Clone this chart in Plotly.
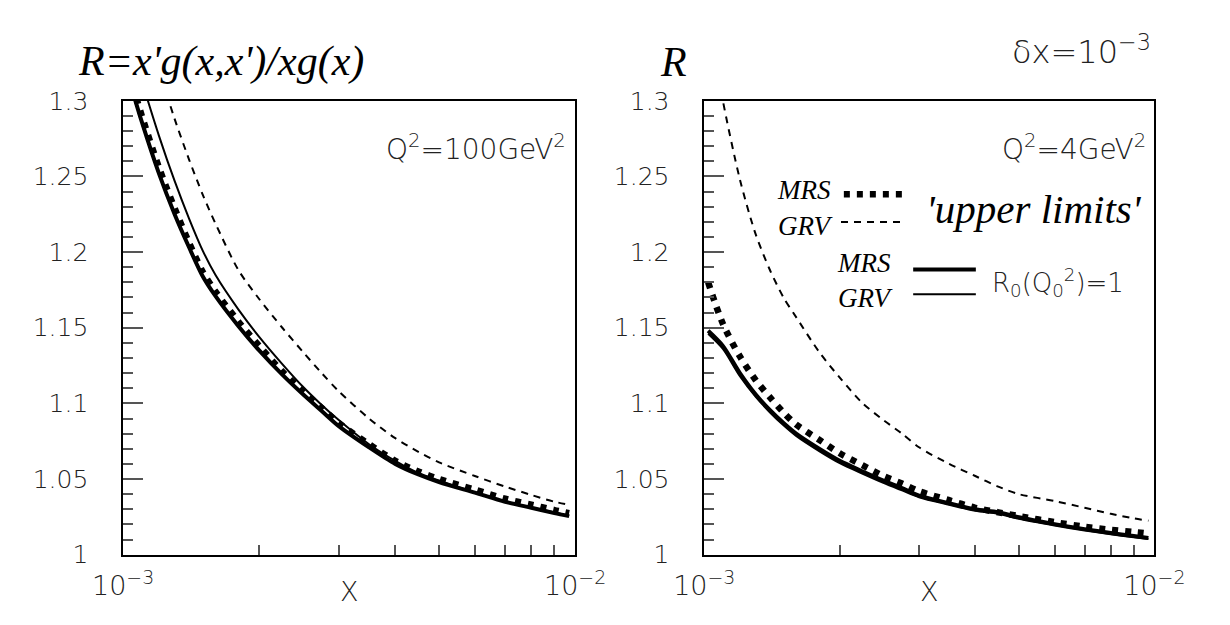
import plotly.graph_objects as go

W, H = 1230, 625

# ---------------- data (x given in units of 1e-3) ----------------
# Left panel: Q^2 = 100 GeV^2
l_mrs_up_x = [1.05, 1.1, 1.2, 1.3, 1.4, 1.5, 1.6, 1.8, 2.0, 2.25, 2.5, 2.75, 3.0, 3.5, 4.0, 4.5, 5.0, 6.0, 7.0, 8.0, 9.0, 9.7]
l_mrs_up_y = [1.310, 1.290, 1.256, 1.229, 1.206, 1.187, 1.174, 1.154, 1.138, 1.121, 1.108, 1.097, 1.087, 1.073, 1.062, 1.055, 1.050, 1.043, 1.037, 1.033, 1.0295, 1.0275]

l_grv_up_x = [1.2, 1.25, 1.3, 1.4, 1.5, 1.6, 1.8, 2.0, 2.25, 2.5, 2.75, 3.0, 3.5, 4.0, 4.5, 5.0, 6.0, 7.0, 8.0, 9.0, 9.7]
l_grv_up_y = [1.321, 1.304, 1.288, 1.261, 1.238, 1.219, 1.188, 1.169, 1.150, 1.134, 1.120, 1.108, 1.090, 1.077, 1.068, 1.061, 1.052, 1.045, 1.0395, 1.035, 1.033]

l_mrs_r0_x = [1.05, 1.1, 1.2, 1.3, 1.4, 1.5, 1.6, 1.8, 2.0, 2.25, 2.5, 2.75, 3.0, 3.5, 4.0, 4.5, 5.0, 6.0, 7.0, 8.0, 9.0, 9.7]
l_mrs_r0_y = [1.306, 1.286, 1.252, 1.225, 1.203, 1.184, 1.171, 1.151, 1.135, 1.119, 1.106, 1.095, 1.085, 1.071, 1.060, 1.053, 1.048, 1.041, 1.035, 1.031, 1.0275, 1.0255]

l_grv_r0_x = [1.1, 1.2, 1.3, 1.4, 1.5, 1.6, 1.8, 2.0, 2.25, 2.5, 2.75, 3.0, 3.5, 4.0, 4.5, 5.0, 6.0, 7.0, 8.0, 9.0, 9.7]
l_grv_r0_y = [1.313, 1.277, 1.247, 1.222, 1.201, 1.185, 1.162, 1.144, 1.126, 1.111, 1.099, 1.089, 1.073, 1.062, 1.054, 1.049, 1.041, 1.035, 1.031, 1.028, 1.0255]

# Right panel: Q^2 = 4 GeV^2
r_mrs_up_x = [1.02, 1.1, 1.2, 1.3, 1.4, 1.5, 1.6, 1.8, 2.0, 2.25, 2.5, 2.75, 3.0, 3.5, 4.0, 4.5, 5.0, 6.0, 7.0, 8.0, 9.0, 9.7]
r_mrs_up_y = [1.180, 1.1526, 1.131, 1.1155, 1.104, 1.094, 1.086, 1.076, 1.067, 1.059, 1.052, 1.047, 1.042, 1.036, 1.031, 1.028, 1.0255, 1.0215, 1.0185, 1.0165, 1.015, 1.014]

r_grv_up_x = [1.08, 1.1, 1.2, 1.3, 1.4, 1.5, 1.6, 1.8, 2.0, 2.25, 2.5, 2.75, 3.0, 3.5, 4.0, 4.5, 5.0, 6.0, 7.0, 8.0, 9.0, 9.7]
r_grv_up_y = [1.315, 1.300, 1.248, 1.212, 1.188, 1.170, 1.157, 1.134, 1.117, 1.100, 1.089, 1.080, 1.071, 1.060, 1.052, 1.045, 1.040, 1.0355, 1.031, 1.027, 1.024, 1.0225]

r_mrs_r0_x = [1.02, 1.1, 1.2, 1.3, 1.4, 1.5, 1.6, 1.8, 2.0, 2.25, 2.5, 2.75, 3.0, 3.5, 4.0, 4.5, 5.0, 6.0, 7.0, 8.0, 9.0, 9.7]
r_mrs_r0_y = [1.148, 1.138, 1.120, 1.106, 1.0955, 1.087, 1.080, 1.070, 1.062, 1.055, 1.049, 1.044, 1.039, 1.034, 1.030, 1.028, 1.0247, 1.0202, 1.0169, 1.0143, 1.0123, 1.011]

r_grv_r0_x = [1.02, 1.1, 1.2, 1.3, 1.4, 1.5, 1.6, 1.8, 2.0, 2.25, 2.5, 2.75, 3.0, 3.5, 4.0, 4.5, 5.0, 6.0, 7.0, 8.0, 9.0, 9.7]
r_grv_r0_y = [1.146, 1.136, 1.118, 1.1045, 1.094, 1.0855, 1.0785, 1.0685, 1.0605, 1.0535, 1.0475, 1.0425, 1.038, 1.033, 1.029, 1.027, 1.0237, 1.0193, 1.016, 1.0135, 1.0115, 1.0103]

x_major_vals = [0.001, 0.01]
x_major_text = ["10<sup>\u22123</sup>", "10<sup>\u22122</sup>"]
x_minor_vals = [0.002, 0.003, 0.004, 0.005, 0.006, 0.007, 0.008, 0.009]
y_tickvals = [1.0, 1.05, 1.1, 1.15, 1.2, 1.25, 1.3]
y_ticktext = ["1", "1.05", "1.1", "1.15", "1.2", "1.25", "1.3"]


def sc(v):
    return [a * 1e-3 for a in v]


SANS = "DejaVu Sans ExtraLight, DejaVu Sans Light, DejaVu Sans"
SERIF = "Liberation Serif, Times New Roman, serif"
TXT = "#222"

DOT = "6px,7px"
DASH = "7px,6px"

fig = go.Figure()


def add(xv, yv, xa, ya, width, dash):
    fig.add_trace(go.Scatter(x=sc(xv), y=yv, xaxis=xa, yaxis=ya, mode="lines",
                             line=dict(color="black", width=width, dash=dash, shape="spline", smoothing=0.8),
                             hoverinfo="skip", showlegend=False))


# left panel
add(l_grv_up_x, l_grv_up_y, "x", "y", 2, DASH)
add(l_grv_r0_x, l_grv_r0_y, "x", "y", 2, "solid")
add(l_mrs_r0_x, l_mrs_r0_y, "x", "y", 4, "solid")
add(l_mrs_up_x, l_mrs_up_y, "x", "y", 6.5, DOT)
# right panel
add(r_grv_up_x, r_grv_up_y, "x2", "y2", 2, DASH)
add(r_grv_r0_x, r_grv_r0_y, "x2", "y2", 2, "solid")
add(r_mrs_r0_x, r_mrs_r0_y, "x2", "y2", 4, "solid")
add(r_mrs_up_x, r_mrs_up_y, "x2", "y2", 6.5, DOT)


def px(xp):
    return xp / W


def py(yp):
    return 1 - yp / H


L0, L1, R0, R1 = 97, 573, 709, 1183
T0, B0 = 91, 567

xcommon = dict(type="log", range=[-3, -2], showline=True, mirror=True, linecolor="black", linewidth=1.5,
               ticks="inside", ticklen=10, tickwidth=1.5, tickcolor="#555",
               tickmode="array", tickvals=x_major_vals, ticktext=x_major_text,
               minor=dict(ticks="inside", ticklen=10, tickwidth=1.5, tickcolor="#555",
                          tickmode="array", tickvals=x_minor_vals),
               showgrid=False, zeroline=False,
               tickfont=dict(family=SANS, size=27, color=TXT), ticklabelstandoff=6)
ycommon = dict(range=[1, 1.3], showline=True, mirror=True, linecolor="black", linewidth=1.5,
               ticks="inside", ticklen=20, tickwidth=1.5, tickcolor="#555",
               tickmode="array", tickvals=y_tickvals, ticktext=y_ticktext, showgrid=False, zeroline=False,
               minor=dict(ticks="inside", ticklen=10, tickwidth=1.5, tickcolor="#555", dtick=0.01),
               tickfont=dict(family=SANS, size=25, color=TXT), ticklabelstandoff=28)

fig.update_layout(
    width=W, height=H, margin=dict(l=0, r=0, t=0, b=0),
    paper_bgcolor="white", plot_bgcolor="white",
    xaxis=dict(domain=[px(L0), px(L1)], anchor="y", **xcommon),
    yaxis=dict(domain=[py(B0), py(T0)], anchor="x", **ycommon),
    xaxis2=dict(domain=[px(R0), px(R1)], anchor="y2", **xcommon),
    yaxis2=dict(domain=[py(B0), py(T0)], anchor="x2", **ycommon),
)


def note(text, xp, yp, size, family, xanchor="left", color=TXT):
    fig.add_annotation(text=text, x=px(xp), y=py(yp), xref="paper", yref="paper",
                       xanchor=xanchor, yanchor="middle", showarrow=False,
                       font=dict(family=family, size=size, color=color))


# titles
note("<i>R=x'g(x,x')/xg(x)</i>", 47, 50, 42, SERIF, color="black")
note("<i>R</i>", 660, 50, 42, SERIF, color="black")
note("\u03b4x=10<sup>\u22123</sup>", 1182, 38, 32, SANS, xanchor="right")
note("X", (L0 + L1) / 2, 606, 27, SANS, xanchor="center")
note("X", (R0 + R1) / 2, 606, 27, SANS, xanchor="center")
note("Q<sup>2</sup>=100GeV<sup>2</sup>", 566, 140, 28, SANS, xanchor="right")
note("Q<sup>2</sup>=4GeV<sup>2</sup>", 1176, 140, 28, SANS, xanchor="right")

# legend block
note("<i>MRS</i>", 783, 185, 27, SERIF, color="black")
note("<i>GRV</i>", 785, 222, 27, SERIF, color="black")
note("<i>'upper limits'</i>", 940, 205, 41, SERIF, color="black")
note("<i>MRS</i>", 847, 261, 27, SERIF, color="black")
note("<i>GRV</i>", 848, 298, 27, SERIF, color="black")
note("R<sub>0</sub>(Q<sub>0</sub><sup>2</sup>)=1", 1010, 282, 26, SANS)

fig.add_shape(type="line", xref="paper", yref="paper", x0=px(856), x1=px(920), y0=py(189), y1=py(189),
              line=dict(color="black", width=6.5, dash=DOT))
fig.add_shape(type="line", xref="paper", yref="paper", x0=px(853), x1=px(920), y0=py(218), y1=py(218),
              line=dict(color="black", width=2, dash=DASH))
fig.add_shape(type="line", xref="paper", yref="paper", x0=px(929), x1=px(995), y0=py(268), y1=py(268),
              line=dict(color="black", width=4))
fig.add_shape(type="line", xref="paper", yref="paper", x0=px(929), x1=px(995), y0=py(294), y1=py(294),
              line=dict(color="black", width=2))

fig.write_html("out.html")
